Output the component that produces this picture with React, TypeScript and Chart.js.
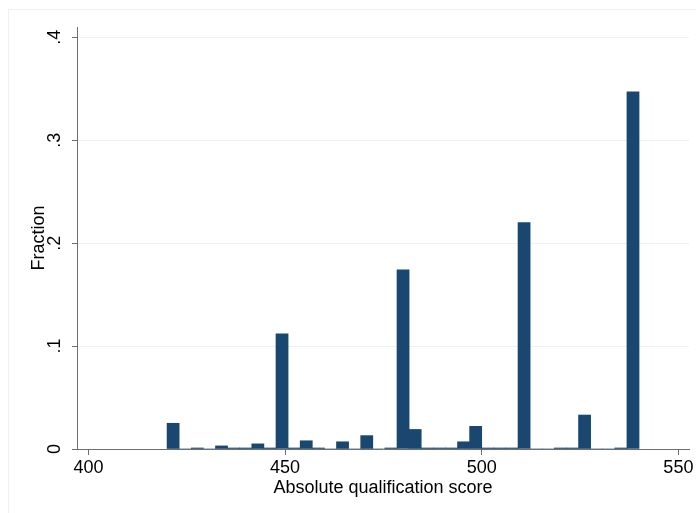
import { useEffect, useRef } from "react";
import { Chart, registerables } from "chart.js";

Chart.register(...registerables);

// Histogram of absolute qualification scores: 39 equal-width bins spanning 420–540
const binLow = 420;
const binHigh = 540;
const fractions = [
  0.025, 0, 0.001, 0, 0.003, 0.001, 0.001, 0.005, 0.001, 0.112,
  0.001, 0.008, 0.001, 0, 0.007, 0, 0.013, 0, 0.001, 0.174,
  0.019, 0.001, 0.001, 0.001, 0.007, 0.022, 0.001, 0.001, 0.001, 0.22,
  0, 0, 0.001, 0.001, 0.033, 0, 0, 0.001, 0.347,
];

const xTickValues = [400, 450, 500, 550];
const yTickValues = [0, 0.1, 0.2, 0.3, 0.4];
const yTickLabels = ["0", ".1", ".2", ".3", ".4"];
const xTitle = "Absolute qualification score";
const yTitle = "Fraction";

const FONT = "'Liberation Sans', Arial, Helvetica, sans-serif";
const BAR = "#1a476f";
const AXIS = "#6e6e6e";
const GRID = "#eaf2f3";

// Stata-style vertical tick labels on the y axis
const yTickLabelPlugin = {
  id: "yTickLabelsRotated",
  afterDraw(chart: any) {
    const { ctx } = chart;
    const y = chart.scales.y;
    ctx.save();
    ctx.fillStyle = "#000";
    ctx.font = `18px ${FONT}`;
    ctx.textAlign = "center";
    ctx.textBaseline = "alphabetic";
    yTickValues.forEach((v, i) => {
      const py = y.getPixelForValue(v);
      ctx.save();
      ctx.translate(y.right - 17, py);
      ctx.rotate(-Math.PI / 2);
      ctx.fillText(yTickLabels[i], 0, 0);
      ctx.restore();
    });
    ctx.restore();
  },
};

// Faint outline of the graph region
const framePlugin = {
  id: "graphRegionFrame",
  beforeDraw(chart: any) {
    const { ctx } = chart;
    ctx.save();
    ctx.fillStyle = "#ffffff";
    ctx.fillRect(0, 0, chart.width, chart.height);
    ctx.strokeStyle = "#eef2f5";
    ctx.lineWidth = 1;
    ctx.strokeRect(8.5, 9.5, chart.width, chart.height);
    ctx.restore();
  },
};

export default function App() {
  const canvasRef = useRef<HTMLCanvasElement | null>(null);

  useEffect(() => {
    if (!canvasRef.current) return;
    const width = (binHigh - binLow) / fractions.length;
    const points = fractions.map((f, i) => ({ x: binLow + (i + 0.5) * width, y: f }));

    const chart = new Chart(canvasRef.current, {
      type: "bar",
      data: {
        datasets: [
          {
            data: points as any,
            backgroundColor: BAR,
            borderWidth: 0,
            barPercentage: 1,
            categoryPercentage: 1,
          },
        ],
      },
      options: {
        animation: false,
        responsive: true,
        maintainAspectRatio: false,
        layout: { padding: { top: 27, right: 7, left: 0, bottom: 0 } },
        plugins: { legend: { display: false }, tooltip: { enabled: false } },
        scales: {
          x: {
            type: "linear",
            offset: false,
            min: 397.1,
            max: 552.7,
            afterBuildTicks: (s: any) => {
              s.ticks = xTickValues.map((v) => ({ value: v }));
            },
            afterFit: (s: any) => {
              s.height = 64;
            },
            grid: {
              display: true,
              offset: false,
              drawOnChartArea: false,
              drawTicks: true,
              tickLength: 6,
              tickColor: AXIS,
              tickWidth: 1,
            },
            border: { display: true, color: AXIS, width: 1 },
            ticks: {
              color: "#000",
              font: { family: FONT, size: 18 },
              padding: 2,
              maxRotation: 0,
              autoSkip: false,
              callback: (v: any) => String(v),
            },
            title: {
              display: true,
              text: xTitle,
              color: "#000",
              font: { family: FONT, size: 18 },
              padding: { top: 0, bottom: 14.5 },
            },
          },
          y: {
            min: 0,
            max: 0.41,
            afterBuildTicks: (s: any) => {
              s.ticks = yTickValues.map((v) => ({ value: v }));
            },
            afterFit: (s: any) => {
              s.width = 77;
            },
            grid: {
              color: (c: any) => (c.tick && c.tick.value === 0 ? "rgba(0,0,0,0)" : GRID),
              tickColor: AXIS,
              tickLength: 5,
              lineWidth: 1,
            },
            border: { display: true, color: AXIS, width: 1 },
            ticks: { display: false },
            title: {
              display: true,
              text: yTitle,
              color: "#000",
              font: { family: FONT, size: 18 },
              padding: { top: 28, bottom: 0 },
            },
          },
        },
      },
      plugins: [framePlugin, yTickLabelPlugin],
    });

    return () => chart.destroy();
  }, []);

  return (
    <div style={{ position: "absolute", left: 0, top: 0, width: 696, height: 513 }}>
      <canvas ref={canvasRef} />
    </div>
  );
}
